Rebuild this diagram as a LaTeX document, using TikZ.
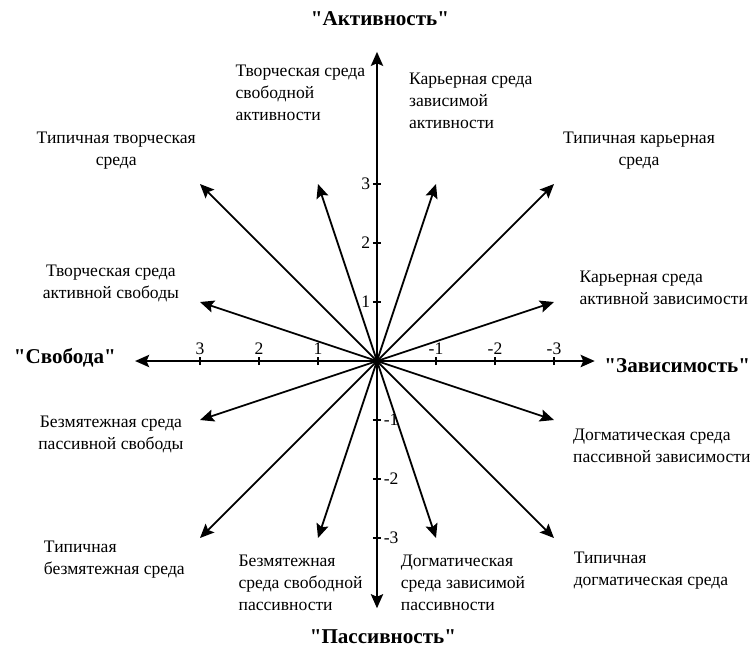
\documentclass[tikz,border=0pt]{standalone}
\usepackage{fontspec}
\setmainfont{Liberation Serif}[Ligatures=TeXOff]
\usetikzlibrary{arrows.meta}

\begin{document}
\begin{tikzpicture}[x=1.18cm, y=1.18cm, line width=1pt,
	vec/.style={-{Stealth[length=8pt,width=7pt,inset=1.5pt]}},
	axis/.style={{Stealth[length=8pt,width=7pt,inset=1.5pt]}-{Stealth[length=8pt,width=7pt,inset=1.5pt]}},
	title/.style={font=\fontsize{12}{14}\selectfont\bfseries},
	env/.style={font=\fontsize{10}{12.5}\selectfont, inner sep=0pt},
	num/.style={font=\fontsize{10}{12}\selectfont, inner sep=1pt}]
	\useasboundingbox (-6.39,-4.864) rectangle (6.424,6.119);
	\coordinate (O) at (0,0);
	\coordinate (L) at (-4.1,0);
	\coordinate (R) at (3.69,0);
	\coordinate (T) at (0,5.24);
	\coordinate (B) at (0,-4.19);

	% axes
	\draw [axis] (L) -- (R);
	\draw [axis] (B) -- (T);

	\foreach \i in {1,2,3}{
		\draw (-\i,-0.07) -- (-\i,0.07) node[num, above] (xp\i) {\i};
		\draw (\i,-0.07) -- (\i,0.07) node[num, above] (xn\i) {-\i};
		\draw (-0.07,\i) -- (0.07,\i);
		\node[num, left] (yp\i) at (-0.07,\i) {\i};
		\draw (-0.07,-\i) -- (0.07,-\i);
		\node[num, right] (yn\i) at (0.07,-\i) {-\i};
	}

	\node[title] (act) at (0.05,5.81) {"Активность"};
	\node[title] (pas) at (0.1,-4.68) {"Пассивность"};
	\node[title] (svo) at (-5.29,0.05) {"Свобода"};
	\node[title, anchor=west, inner sep=0pt] (zav) at (3.84,-0.07) {"Зависимость"};

	% environments
	\foreach \n/\x/\y in {a/-3/3, b/-1/3, c/1/3, d/3/3, e/-3/1, f/3/1, g/-3/-1, h/3/-1, i/-3/-3, j/-1/-3, k/1/-3, l/3/-3}{
		\coordinate (t\n) at (\x,\y);
		\draw [vec] (O) -- (t\n);
	}

	\node[env, align=center] (tts) at (-4.42,3.56) {Типичная творческая\\среда};
	\node[env, align=center] (tks) at (4.44,3.56) {Типичная карьерная\\среда};
	\node[env, align=left, anchor=west] (tsa) at (-2.41,4.54) {Творческая среда\\свободной\\активности};
	\node[env, align=left, anchor=west] (kza) at (0.53,4.41) {Карьерная среда\\зависимой\\активности};
	\node[env, align=center] (tas) at (-4.51,1.31) {Творческая среда\\активной свободы};
	\node[env, align=left, anchor=west] (kaz) at (3.42,1.24) {Карьерная среда\\активной зависимости};
	\node[env, align=center] (bps) at (-4.51,-1.24) {Безмятежная среда\\пассивной свободы};
	\node[env, align=left, anchor=west] (dpz) at (3.31,-1.44) {Догматическая среда\\пассивной зависимости};
	\node[env, align=left, anchor=west] (tbs) at (-5.66,-3.36) {Типичная\\безмятежная среда};
	\node[env, align=left, anchor=west] (tds) at (3.32,-3.56) {Типичная\\догматическая среда};
	\node[env, align=left, anchor=west] (bsp) at (-2.36,-3.76) {Безмятежная\\среда свободной\\пассивности};
	\node[env, align=left, anchor=west] (dzp) at (0.39,-3.76) {Догматическая\\среда зависимой\\пассивности};
\end{tikzpicture}
\end{document}
